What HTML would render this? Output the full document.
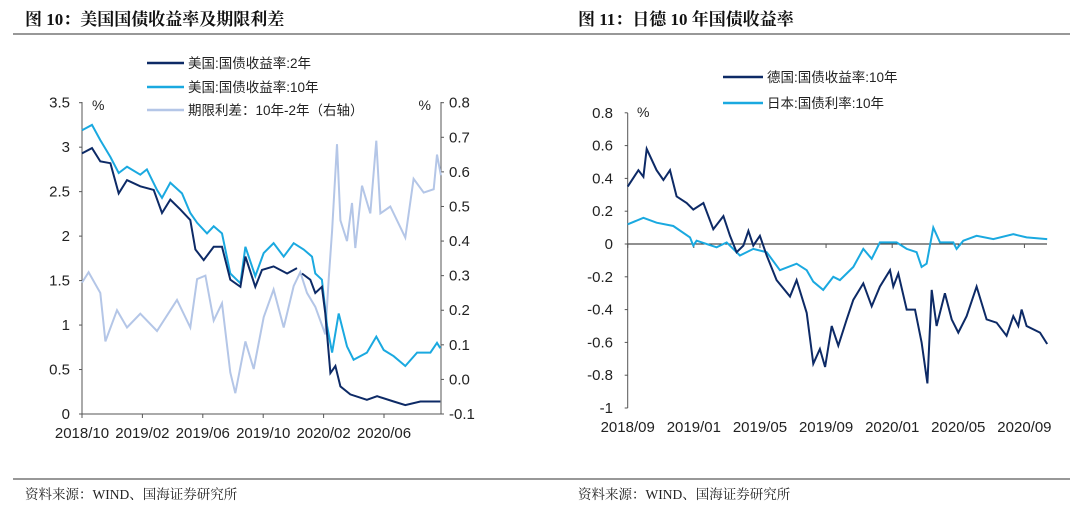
<!DOCTYPE html>
<html><head><meta charset="utf-8"><style>
body{margin:0;width:1080px;height:515px;background:#fff;overflow:hidden;font-family:"Liberation Sans","Noto Sans CJK SC",sans-serif}
svg text{font-family:"Liberation Sans","Noto Sans CJK SC",sans-serif}
.t{font-family:"Liberation Serif","Noto Serif CJK SC",serif;font-weight:bold;font-size:17px;fill:#111}
.s{font-family:"Liberation Serif","Noto Serif CJK SC",serif;font-size:13.5px;fill:#222}
</style></head><body>
<svg id="svg" width="1080" height="515" xmlns="http://www.w3.org/2000/svg">
<text class="t" x="25" y="25">图 10：美国国债收益率及期限利差</text>
<text class="t" x="578" y="25">图 11：日德 10 年国债收益率</text>
<line x1="13" y1="34" x2="1070" y2="34" stroke="#777" stroke-width="1.5"/>
<line x1="13" y1="479" x2="1070" y2="479" stroke="#777" stroke-width="1.5"/>
<text class="s" x="25" y="499">资料来源：WIND、国海证券研究所</text>
<text class="s" x="578" y="499">资料来源：WIND、国海证券研究所</text>
<g id="L"></g>
<g id="R"></g>
</svg>
<script>
// Left chart data (t = months since 2018/10)
const us2T=[0,0.66,1.21,1.88,2.43,2.98,3.86,4.75,5.3,5.85,6.51,7.17,7.51,8.06,8.72,9.27,9.82,10.49,10.82,11.48,11.92,12.69,13.58,14.24];
const us2V=[2.93,2.99,2.84,2.82,2.48,2.63,2.56,2.52,2.26,2.41,2.30,2.18,1.85,1.73,1.88,1.88,1.51,1.43,1.77,1.43,1.62,1.66,1.58,1.64];
const us2T2=[14.57,15.12,15.45,15.89,16.11,16.45,16.78,17.11,17.77,18.87,19.54,20.64,21.41,22.41,23.73];
const us2V2=[1.58,1.51,1.36,1.43,1.13,0.46,0.54,0.31,0.22,0.16,0.20,0.14,0.10,0.14,0.14];
const us10T=[0,0.66,1.21,1.88,2.43,2.98,3.86,4.3,4.97,5.3,5.85,6.62,7.17,7.62,8.28,8.72,9.27,9.82,10.49,10.82,11.48,12.03,12.69,13.36,14.02,14.68,15.23,15.45,15.89,16.23,16.56,17.0,17.55,17.99,18.87,19.49,19.98,20.64,21.41,22.19,23.07,23.51,23.73];
const us10V=[3.19,3.25,3.08,2.89,2.71,2.78,2.69,2.75,2.52,2.43,2.60,2.48,2.26,2.15,2.03,2.11,2.03,1.58,1.47,1.88,1.55,1.81,1.92,1.77,1.92,1.85,1.77,1.58,1.51,0.99,0.69,1.13,0.76,0.61,0.69,0.87,0.72,0.65,0.54,0.69,0.69,0.80,0.74];
const sprT=[0,0.44,1.21,1.55,2.32,2.98,3.86,4.97,6.29,7.17,7.62,8.17,8.72,9.27,9.82,10.15,10.82,11.37,12.03,12.69,13.36,14.02,14.46,14.9,15.45,16.11,16.34,16.56,16.89,17.11,17.55,17.88,18.1,18.54,19.09,19.49,19.76,20.42,21.08,21.41,21.96,22.63,23.29,23.51,23.77];
const sprV=[0.28,0.31,0.25,0.11,0.20,0.15,0.19,0.14,0.23,0.15,0.29,0.30,0.17,0.22,0.02,-0.04,0.11,0.03,0.18,0.26,0.15,0.27,0.31,0.25,0.21,0.13,0.29,0.43,0.68,0.46,0.40,0.51,0.38,0.56,0.48,0.69,0.48,0.50,0.44,0.41,0.58,0.54,0.55,0.65,0.59];
const lYTicks=["0","0.5","1","1.5","2","2.5","3","3.5"];
const rYTicks=["-0.1","0.0","0.1","0.2","0.3","0.4","0.5","0.6","0.7","0.8"];
const lXTicks=["2018/10","2019/02","2019/06","2019/10","2020/02","2020/06"];
// Right chart data (t = months since 2018/09)
const deT=[0,0.65,0.95,1.15,1.75,2.16,2.56,2.96,3.57,3.97,4.58,5.18,5.79,6.19,6.59,7.0,7.3,7.6,8.0,8.41,9.01,9.82,10.22,10.83,11.23,11.63,11.94,12.34,12.74,13.25,13.65,14.25,14.76,15.26,15.87,16.07,16.37,16.88,17.38,17.78,18.13,18.39,18.69,19.19,19.6,20.0,20.5,21.11,21.71,22.32,22.92,23.33,23.63,23.83,24.13,24.94,25.38];
const deV=[0.35,0.45,0.41,0.58,0.45,0.39,0.45,0.29,0.25,0.21,0.25,0.09,0.17,0.05,-0.05,-0.01,0.08,-0.01,0.05,-0.07,-0.22,-0.32,-0.22,-0.42,-0.73,-0.64,-0.75,-0.50,-0.62,-0.46,-0.34,-0.24,-0.38,-0.26,-0.16,-0.26,-0.18,-0.40,-0.40,-0.60,-0.85,-0.28,-0.50,-0.30,-0.46,-0.54,-0.44,-0.26,-0.46,-0.48,-0.56,-0.44,-0.50,-0.40,-0.50,-0.54,-0.61];
const jpT=[0,0.95,1.75,2.76,3.77,3.97,4.17,5.38,5.99,6.79,7.6,8.41,9.21,10.22,10.83,11.23,11.83,12.44,12.84,13.65,14.25,14.76,15.26,16.27,16.88,17.48,17.78,18.08,18.49,18.89,19.7,19.9,20.3,21.11,22.12,23.33,24.13,25.38];
const jpV=[0.12,0.16,0.13,0.11,0.04,-0.01,0.02,-0.02,0.01,-0.07,-0.03,-0.05,-0.16,-0.12,-0.16,-0.23,-0.28,-0.20,-0.22,-0.14,-0.03,-0.09,0.01,0.01,-0.03,-0.05,-0.14,-0.12,0.10,0.01,0.01,-0.03,0.02,0.05,0.03,0.06,0.04,0.03];
const rLYTicks=["-1","-0.8","-0.6","-0.4","-0.2","0","0.2","0.4","0.6","0.8"];
const rXTicks=["2018/09","2019/01","2019/05","2019/09","2020/01","2020/05","2020/09"];

const NS="http://www.w3.org/2000/svg";
function mk(p,tag,a,txt){const e=document.createElementNS(NS,tag);for(const k in a)e.setAttribute(k,a[k]);if(txt!==undefined)e.textContent=txt;p.appendChild(e);return e;}
function path(xs,ys,fx,fy){return xs.map((t,i)=>(i?'L':'M')+fx(t).toFixed(1)+' '+fy(ys[i]).toFixed(1)).join(' ');}

// LEFT
const L=document.getElementById('L');
const lx=t=>82+t*15.1, ly=v=>414-v*(311.3/3.5), ry=v=>414-(v+0.1)*(311.3/0.9);
let e;
e=mk(L,'line',{x1:82,y1:102,x2:82,y2:414,stroke:'#555'});


e=mk(L,'line',{x1:441,y1:102,x2:441,y2:414,stroke:'#555'});


e=mk(L,'line',{x1:82,y1:414,x2:441,y2:414,stroke:'#555'});


lYTicks.forEach(s=>{const y=ly(+s);mk(L,'line',{x1:79,y1:y,x2:82,y2:y,stroke:'#555'});
 e=mk(L,'text',{x:70,y:y+5,'text-anchor':'end','font-size':15,fill:'#222'},s);
 
 });
rYTicks.forEach(s=>{const y=ry(+s);mk(L,'line',{x1:441,y1:y,x2:444,y2:y,stroke:'#555'});
 e=mk(L,'text',{x:449,y:y+5,'font-size':15,fill:'#222'},s);
 
 });
lXTicks.forEach((s,i)=>{const x=lx(i*4);mk(L,'line',{x1:x,y1:414,x2:x,y2:418,stroke:'#555'});
 e=mk(L,'text',{x:x,y:438,'text-anchor':'middle','font-size':15,fill:'#222'},s);
 
 });
mk(L,'text',{x:92,y:110,'font-size':14,fill:'#222'},'%');
mk(L,'text',{x:431,y:110,'font-size':14,fill:'#222','text-anchor':'end'},'%');
e=mk(L,'path',{d:path(sprT,sprV,lx,ry),fill:'none',stroke:'#b4c6e7','stroke-width':2});


e=mk(L,'path',{d:path(us10T,us10V,lx,ly),fill:'none',stroke:'#1aa9e0','stroke-width':2});


e=mk(L,'path',{d:path(us2T,us2V,lx,ly)+' '+path(us2T2,us2V2,lx,ly),fill:'none',stroke:'#0d2a66','stroke-width':2});


[['#0d2a66','美国:国债收益率:2年',63],['#1aa9e0','美国:国债收益率:10年',87],['#b4c6e7','期限利差：10年-2年（右轴）',110]].forEach(r=>{
 const g=mk(L,'g',{});
 
 
 mk(g,'line',{x1:147,y1:r[2],x2:184,y2:r[2],stroke:r[0],'stroke-width':2.5});
 mk(g,'text',{x:188,y:r[2]+5,'font-size':13.5,fill:'#222'},r[1]);});

// RIGHT
const R=document.getElementById('R');
const x2=t=>627.7+t*16.53, y2=v=>244-v*(164/1.0);
e=mk(R,'line',{x1:627.7,y1:113,x2:627.7,y2:408,stroke:'#555'});


e=mk(R,'line',{x1:627.7,y1:244,x2:1047,y2:244,stroke:'#222'});


rLYTicks.forEach(s=>{const y=y2(+s);mk(R,'line',{x1:624.7,y1:y,x2:627.7,y2:y,stroke:'#555'});
 e=mk(R,'text',{x:613,y:y+5,'text-anchor':'end','font-size':15,fill:'#222'},s);
 
 });
rXTicks.forEach((s,i)=>{const x=x2(i*4);mk(R,'line',{x1:x,y1:244,x2:x,y2:248,stroke:'#555'});
 e=mk(R,'text',{x:x,y:432,'text-anchor':'middle','font-size':15,fill:'#222'},s);
 
 });
mk(R,'text',{x:637,y:117,'font-size':14,fill:'#222'},'%');
e=mk(R,'path',{d:path(jpT,jpV,x2,y2),fill:'none',stroke:'#1aa9e0','stroke-width':2});


e=mk(R,'path',{d:path(deT,deV,x2,y2),fill:'none',stroke:'#0d2a66','stroke-width':2});


[['#0d2a66','德国:国债收益率:10年',77],['#1aa9e0','日本:国债利率:10年',103]].forEach(r=>{
 const g=mk(R,'g',{});
 
 
 mk(g,'line',{x1:723,y1:r[2],x2:763,y2:r[2],stroke:r[0],'stroke-width':2.5});
 mk(g,'text',{x:767,y:r[2]+5,'font-size':13.5,fill:'#222'},r[1]);});
</script>
</body></html>
